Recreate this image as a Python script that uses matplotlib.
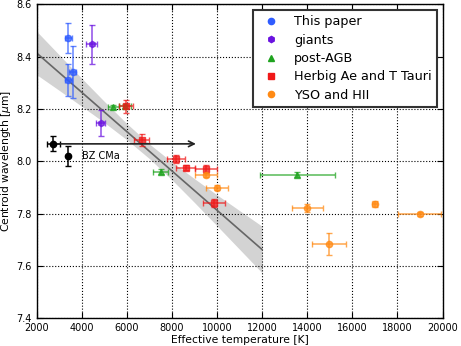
import matplotlib
matplotlib.use("Agg")
import matplotlib.pyplot as plt
from matplotlib.lines import Line2D

# ---- data ----
this_T = [3409, 3409, 3603]
this_lam = [8.473, 8.311, 8.341]
this_Terr = [150, 150, 150]
this_lamerr = [0.058, 0.060, 0.100]

giant_T = [4445, 4844]
giant_lam = [8.448, 8.146]
giant_Terr = [236, 200]
giant_lamerr = [0.075, 0.050]

pagb_T = [5402, 5920, 7502, 13553]
pagb_lam = [8.207, 8.212, 7.961, 7.949]
pagb_Terr = [236, 260, 332, 1660]
pagb_lamerr = [0.008, 0.008, 0.008, 0.010]

herbig_T = [5960, 6660, 8180, 8609, 9508, 9876]
herbig_lam = [8.210, 8.082, 8.008, 7.976, 7.970, 7.840]
herbig_Terr = [300, 325, 413, 428, 480, 502]
herbig_lamerr = [0.024, 0.024, 0.015, 0.010, 0.015, 0.015]

yso_T = [9508, 10009, 13996, 16995, 18988, 14971]
yso_lam = [7.947, 7.899, 7.822, 7.837, 7.798, 7.684]
yso_Terr = [480, 502, 687, 100, 960, 753]
yso_lamerr = [0.008, 0.010, 0.015, 0.010, 0.008, 0.041]

bz_T = [2744, 3409]
bz_lam = [8.067, 8.021]
bz_Terr = [295, 50]
bz_lamerr = [0.029, 0.038]
arrow_T_end = 9066
bz_label = "BZ CMa"

fit_T = [2000, 12000]
fit_lam = [8.415, 7.663]
band_T = [2000, 3000, 4000, 5000, 6000, 7000, 8000, 9000, 10000, 11000, 12000]
band_low = [8.332, 8.272, 8.211, 8.149, 8.083, 8.011, 7.930, 7.843, 7.754, 7.664, 7.574]
band_high = [8.498, 8.408, 8.318, 8.230, 8.145, 8.067, 7.998, 7.934, 7.872, 7.812, 7.752]

labels = ["This paper", "giants", "post-AGB", "Herbig Ae and T Tauri", "YSO and HII"]
colors = ["#2f5cff", "#6a12e0", "#1fa31f", "#f01818", "#ff8a14"]
markers = ["o", "h", "^", "s", "o"]

fig = plt.figure(figsize=(4.61, 3.46), dpi=100)
ax = fig.add_axes([0.0792, 0.0801, 0.8807, 0.9069])

# fit band and line
ax.fill_between(band_T, band_low, band_high, color="#c8c8c8", alpha=0.8, lw=0, zorder=1)
ax.plot(fit_T, fit_lam, color="#666666", lw=1.2, zorder=2)

groups = [
    (this_T, this_lam, this_Terr, this_lamerr),
    (giant_T, giant_lam, giant_Terr, giant_lamerr),
    (pagb_T, pagb_lam, pagb_Terr, pagb_lamerr),
    (herbig_T, herbig_lam, herbig_Terr, herbig_lamerr),
    (yso_T, yso_lam, yso_Terr, yso_lamerr),
]
for (T, lam, Te, le), c, m in zip(groups, colors, markers):
    ax.errorbar(T, lam, xerr=Te, yerr=le, fmt=m, color=c, ecolor=c, ms=4.5,
                mec=c, elinewidth=1.1, capsize=2.5, capthick=1.0, alpha=0.75, zorder=3)

ax.errorbar(bz_T, bz_lam, xerr=bz_Terr, yerr=bz_lamerr, fmt="o", color="black", ms=4.5,
            elinewidth=1.1, capsize=2.5, capthick=1.0, zorder=4)
ax.annotate("", xy=(arrow_T_end, bz_lam[0]), xytext=(bz_T[0], bz_lam[0]),
            arrowprops=dict(arrowstyle="->", color="#222222", lw=1.2,
                            shrinkA=0, shrinkB=0), zorder=4)
ax.text(bz_T[1] + 600, bz_lam[1], bz_label, fontsize=7, va="center", ha="left")

ax.set_xlim(2000, 20000)
ax.set_ylim(7.4, 8.6)
ax.set_xticks(range(2000, 20001, 2000))
ax.set_yticks([7.4, 7.6, 7.8, 8.0, 8.2, 8.4, 8.6])
ax.grid(True, color="black", linestyle=":", linewidth=0.8)
ax.tick_params(direction="in", top=True, right=True, labelsize=7, length=4)
for s in ax.spines.values():
    s.set_linewidth(1.0)
ax.set_xlabel("Effective temperature [K]", fontsize=7.75, labelpad=1)
ax.set_ylabel(r"Centroid wavelength [$\mu$m]", fontsize=7.75, labelpad=2)

handles = [Line2D([], [], ls="", marker=m, color=c, ms=4.5) for c, m in zip(colors, markers)]
leg = ax.legend(handles, labels, loc="upper right", fontsize=9.2, numpoints=1,
                fancybox=False, framealpha=1, edgecolor="#333333", labelspacing=0.42,
                borderaxespad=0.45)
leg.get_frame().set_linewidth(1.5)

fig.savefig("out.png", dpi=100)
